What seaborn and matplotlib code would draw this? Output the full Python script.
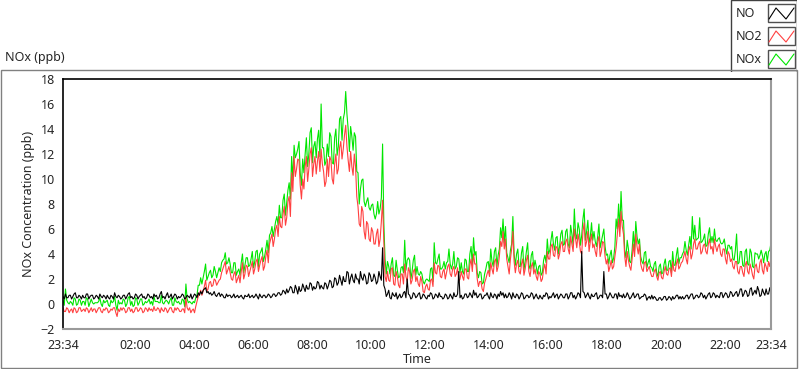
import numpy as np
import pandas as pd
import matplotlib
matplotlib.use("Agg")
import matplotlib.pyplot as plt
from matplotlib.patches import Rectangle
import seaborn as sns

# minutes after 23:34, one reading every 5 min, plus readings in between
minutes = list(range(0, 1445, 5))
minutes_mid = [m + 2.5 for m in range(0, 1440, 5)]

no = [0.6,0.8,0.5,0.7,0.6,0.9,0.5,0.6,0.7,0.5,0.8,0.6,
      0.7,0.5,0.6,0.8,0.5,0.6,0.7,0.4,0.6,0.9,0.5,0.6,
      0.5,0.7,0.6,0.9,0.6,0.5,0.7,0.6,0.8,0.6,0.5,0.7,
      0.6,0.8,0.7,0.5,1.0,0.6,0.7,0.5,0.8,0.6,0.7,0.6,
      0.6,0.7,0.5,0.6,0.8,0.6,0.7,0.9,1.0,1.1,1.3,1.0,
      0.9,0.8,0.7,0.8,0.6,0.7,0.5,0.6,0.7,0.6,0.5,0.7,
      0.6,0.5,0.7,0.6,0.5,0.7,0.6,0.6,0.8,0.5,0.7,0.6,
      0.7,0.6,0.8,0.7,0.9,0.8,1.0,1.2,1.1,1.3,0.9,1.2,
      1.4,1.1,1.3,1.5,1.2,1.6,1.4,1.3,1.7,1.5,1.2,1.6,
      1.5,1.8,1.4,2.0,1.7,1.9,2.2,1.8,2.5,2.1,1.9,2.4,
      2.0,2.6,1.9,2.2,1.7,2.3,1.9,2.1,1.8,2.2,4.5,1.2,
      0.8,0.5,0.9,0.6,0.4,0.8,0.6,1.0,2.0,0.7,0.5,0.8,
      0.6,0.9,0.5,0.7,0.4,0.6,0.8,0.5,0.7,0.9,0.6,0.5,
      0.7,0.5,0.6,0.9,0.6,2.6,0.7,0.5,0.8,0.6,0.7,1.1,
      0.9,0.6,0.8,0.5,0.7,0.6,0.9,0.5,0.7,0.8,1.0,0.9,
      0.8,0.6,0.7,0.9,0.5,0.7,0.6,0.8,0.5,0.7,0.6,0.8,
      0.6,0.5,0.7,0.4,0.6,0.8,0.6,0.7,0.5,0.8,0.6,0.7,
      0.5,0.8,0.6,0.9,0.7,0.6,0.8,4.2,0.9,0.7,0.6,0.8,
      0.6,0.9,0.5,0.7,2.6,0.8,0.6,0.7,0.5,0.8,0.9,0.7,
      0.8,0.6,0.7,0.5,0.9,0.6,0.8,0.5,0.6,0.7,0.5,0.4,
      0.4,0.5,0.3,0.5,0.4,0.6,0.4,0.5,0.6,0.5,0.7,0.6,
      0.6,0.5,0.7,0.6,0.8,0.5,0.7,0.6,0.8,0.7,0.6,0.9,
      0.6,0.8,0.7,0.5,0.9,0.7,0.8,0.6,0.9,0.7,1.0,0.8,
      1.2,0.8,1.0,0.7,1.3,0.9,0.8,1.1,0.7,0.9,1.2,0.8,
      0.8]
no_mid = [0.4,0.5,0.7,0.4,0.8,0.5,0.7,0.4,0.5,0.8,0.4,0.7,
          0.4,0.7,0.4,0.6,0.7,0.4,0.5,0.7,0.4,0.6,0.7,0.4,
          0.7,0.4,0.8,0.5,0.4,0.8,0.4,0.7,0.5,0.4,0.8,0.5,
          0.4,0.6,0.4,0.8,0.5,0.4,0.9,0.6,0.4,0.8,0.4,0.5,
          0.8,0.4,0.7,0.5,0.4,0.8,0.5,0.7,0.8,1.2,0.9,0.8,
          0.7,1.0,0.6,0.9,0.8,0.5,0.8,0.7,0.5,0.8,0.6,0.5,
          0.7,0.4,0.6,0.8,0.6,0.5,0.8,0.4,0.6,0.7,0.5,0.8,
          0.5,0.8,0.6,0.9,0.7,1.1,0.8,0.9,1.4,0.9,1.5,0.8,
          1.0,1.6,1.0,1.2,1.7,1.1,1.2,1.8,1.2,1.3,1.7,1.2,
          1.9,1.3,2.1,1.5,2.3,1.5,1.8,2.6,1.6,2.4,1.7,2.0,
          1.6,2.1,2.4,1.6,2.5,1.8,2.4,1.6,2.6,1.9,1.5,0.6,
          1.1,0.4,0.7,0.9,0.6,0.5,0.9,0.5,0.8,0.4,0.9,0.5,
          0.8,0.4,0.8,0.5,0.7,0.9,0.4,0.8,0.5,0.6,0.4,0.8,
          0.4,0.8,0.4,0.6,0.8,0.5,0.4,0.8,0.5,0.9,0.5,0.7,
          0.5,0.8,0.4,0.7,0.9,0.4,0.6,0.8,0.4,0.6,0.7,0.5,
          0.5,0.9,0.4,0.6,0.8,0.4,0.9,0.4,0.7,0.5,0.9,0.4,
          0.8,0.4,0.5,0.7,0.9,0.4,0.5,0.9,0.7,0.4,0.8,0.5,
          0.8,0.4,0.9,0.5,0.4,0.9,0.5,1.0,0.5,0.9,0.4,0.6,
          0.8,0.4,0.7,0.5,0.8,0.4,0.9,0.5,0.8,0.4,0.6,0.5,
          0.5,0.9,0.4,0.7,0.5,0.8,0.4,0.6,0.8,0.3,0.6,0.7,
          0.6,0.3,0.5,0.3,0.6,0.3,0.6,0.3,0.4,0.7,0.4,0.4,
          0.4,0.7,0.4,0.8,0.4,0.7,0.5,0.9,0.5,0.4,0.8,0.5,
          0.9,0.5,0.6,0.9,0.5,0.9,0.5,1.0,0.6,0.9,0.6,1.2,
          0.6,1.1,0.6,1.2,0.7,1.1,1.4,0.6,1.2,0.7,0.8,1.3]

no2 = [-0.3,-0.6,-0.4,-0.5,-0.7,-0.4,-0.6,-0.3,-0.5,-0.6,-0.4,-0.5,
       -0.6,-0.4,-0.5,-0.3,-0.7,-0.5,-0.4,-0.6,-0.5,-0.3,-1.0,-0.6,
       -0.5,-0.4,-0.6,-0.3,-0.4,-0.6,-0.3,-0.5,-0.4,-0.6,-0.4,-0.3,
       -0.4,-0.2,-0.5,-0.4,-0.3,-0.6,-0.4,-0.5,-0.3,-0.7,-0.5,-0.4,
       -0.6,-0.4,0.5,-0.5,-0.7,-0.4,-0.2,0.6,1.1,1.0,1.9,1.2,
       1.8,1.5,1.9,1.7,2.0,2.8,3.4,2.7,2.5,1.9,2.6,2.0,
       1.7,3.3,2.4,3.0,2.6,3.4,2.8,3.6,3.1,3.8,3.0,4.3,
       4.8,5.6,5.2,6.3,7.0,6.1,7.8,6.9,8.6,10.5,11.8,10.8,
       11.5,8.4,9.2,11.8,10.8,12.5,11.2,10.4,12.2,12.4,10.6,9.8,
       10.2,11.5,9.6,12.0,10.8,13.0,12.4,14.3,11.5,12.2,10.3,11.0,
       7.8,6.2,7.4,5.2,6.4,5.0,5.8,4.8,6.0,5.2,8.3,2.2,
       2.6,1.8,2.9,1.5,2.2,1.3,2.4,3.2,1.8,2.6,1.9,2.8,
       2.2,1.4,1.8,0.9,1.6,1.1,2.0,3.3,2.4,3.0,2.1,2.8,
       2.5,3.2,2.2,3.0,2.4,1.8,2.6,1.9,2.8,2.0,3.6,4.0,
       3.2,1.4,1.8,1.0,2.0,2.7,3.3,2.4,3.6,3.0,5.0,5.8,
       5.2,3.0,3.6,5.8,2.5,3.5,2.4,3.6,2.8,3.9,2.2,3.3,
       2.8,1.9,2.4,2.0,3.2,4.2,3.6,4.8,3.8,4.5,4.0,5.0,
       4.2,5.2,4.0,4.8,6.0,4.5,5.0,4.0,6.5,5.0,4.2,5.6,
       4.8,3.8,5.4,4.2,4.9,3.2,2.6,3.5,3.0,4.5,6.8,7.4,
       5.6,3.0,3.5,2.7,4.8,5.6,4.0,3.2,2.6,3.4,2.8,2.5,
       2.2,2.8,1.9,2.6,2.0,3.0,2.3,2.9,3.4,2.6,3.6,3.0,
       3.4,4.2,3.2,4.6,4.0,5.2,4.4,5.0,4.2,4.8,4.0,5.2,
       4.6,5.2,4.2,4.8,3.8,4.4,3.2,4.0,3.6,2.8,3.4,2.4,
       3.0,2.2,3.4,2.4,2.8,2.0,3.2,2.5,3.6,2.4,3.0,3.4,
       3.6]
no2_mid = [-0.6,-0.3,-0.7,-0.4,-0.3,-0.7,-0.3,-0.6,-0.4,-0.3,-0.7,-0.3,
           -0.4,-0.7,-0.3,-0.6,-0.4,-0.3,-0.7,-0.4,-0.3,-0.7,-0.4,-0.3,
           -0.3,-0.7,-0.3,-0.6,-0.7,-0.3,-0.6,-0.3,-0.7,-0.3,-0.6,-0.5,
           -0.6,-0.5,-0.3,-0.7,-0.5,-0.3,-0.7,-0.3,-0.6,-0.3,-0.3,-0.6,
           -0.4,-0.7,-0.3,-0.3,-0.5,-0.7,0.2,0.8,0.7,1.4,1.0,1.7,
           1.4,2.0,1.5,1.9,2.5,3.1,2.4,3.0,2.0,2.4,1.7,2.3,
           2.6,2.0,3.1,2.2,3.0,2.4,3.4,2.6,3.5,2.7,3.8,3.3,
           5.2,4.6,6.0,5.4,6.2,7.2,6.3,8.2,7.0,9.0,10.2,11.6,
           9.5,10.0,11.0,9.8,12.0,10.2,11.8,11.4,10.6,11.2,9.4,11.6,
           11.8,10.0,11.2,10.4,12.5,11.6,13.5,12.6,10.6,11.0,12.0,8.6,
           6.4,7.8,5.8,6.6,5.2,6.1,4.8,5.6,4.6,6.6,5.0,1.8,
           1.9,2.8,1.6,2.6,1.5,2.4,1.6,2.2,2.9,1.6,2.6,1.8,
           1.6,2.2,1.0,1.4,1.2,1.9,1.4,2.5,3.1,2.2,2.6,2.0,
           3.0,2.4,2.8,2.2,2.9,2.0,2.2,2.8,2.1,3.1,2.6,3.2,
           2.0,1.8,1.2,1.7,2.4,2.2,2.8,3.4,2.6,3.8,4.6,4.4,
           3.6,2.4,4.4,3.4,3.2,2.6,3.2,2.3,3.5,2.6,3.0,2.4,
           2.2,2.6,1.8,2.8,2.4,3.6,4.6,3.9,4.6,3.6,4.8,4.2,
           5.0,4.4,5.4,4.2,5.2,5.6,4.2,5.8,4.6,5.8,5.0,4.5,
           4.2,5.0,3.8,5.0,3.8,3.6,3.0,2.8,3.8,5.6,5.4,6.2,
           3.8,4.2,3.0,3.6,3.8,4.6,4.8,2.8,3.3,2.6,3.0,2.2,
           2.6,2.2,2.5,2.1,2.6,2.4,2.8,2.2,2.7,3.2,2.8,3.3,
           3.8,3.6,4.3,3.6,4.8,4.4,4.8,4.0,4.7,4.2,4.8,4.4,
           4.0,4.6,4.6,4.0,4.4,3.6,4.2,3.4,3.0,3.4,2.6,3.0,
           2.5,3.1,2.6,3.2,2.3,3.0,2.6,3.3,2.7,3.3,2.6,3.0]

nox = [0.3,1.2,0.1,0.2,-0.1,0.4,0.0,0.3,0.2,-0.1,0.4,0.1,
       0.1,0.1,0.1,0.5,-0.2,0.1,0.3,-0.2,0.1,0.6,-0.5,0.0,
       0.0,0.3,0.0,0.6,0.2,-0.1,0.4,0.1,0.4,0.0,0.1,0.4,
       0.2,0.6,0.2,0.1,0.7,0.0,0.3,0.0,0.5,-0.1,0.2,0.2,
       0.0,0.3,1.6,0.1,0.1,0.2,0.5,1.5,2.1,2.1,3.2,2.2,
       2.7,2.3,2.6,2.5,2.6,3.5,4.1,3.3,3.2,2.5,3.3,2.6,
       2.3,4.0,3.1,3.7,3.1,4.2,3.4,4.3,4.0,4.5,3.8,5.1,
       5.5,6.2,6.0,7.0,7.9,6.9,8.8,8.1,9.7,11.8,12.7,12.0,
       13.0,9.5,10.5,13.3,12.0,14.1,12.6,11.7,13.9,16.0,12.5,11.4,
       11.8,13.4,11.2,14.0,12.6,15.0,14.8,17.0,14.0,14.2,12.3,13.4,
       10.5,9.2,10.0,7.8,8.5,7.5,8.0,6.8,8.2,7.6,12.8,3.6,
       3.4,2.4,3.7,2.2,2.7,2.2,3.0,5.1,3.5,3.5,2.6,3.9,
       3.0,2.3,2.4,1.6,2.0,1.8,2.9,4.9,3.2,4.0,2.8,3.4,
       3.3,4.4,2.8,4.2,3.0,3.6,3.3,2.4,3.5,2.6,4.6,5.3,
       4.2,2.1,2.5,1.7,2.8,3.4,4.4,3.0,4.5,3.9,6.1,6.8,
       6.2,3.7,4.3,7.0,3.1,4.4,3.0,4.6,3.4,4.9,2.8,4.2,
       3.5,2.4,3.1,2.5,3.9,5.2,4.3,5.8,4.3,5.4,4.6,5.9,
       4.8,6.0,4.5,5.6,7.6,5.2,6.0,5.5,7.6,5.8,4.9,6.5,
       5.8,4.6,6.4,5.0,6.0,3.9,3.2,4.3,3.7,6.8,8.0,9.0,
       6.7,3.7,4.4,3.3,5.8,6.6,4.8,3.8,3.2,4.2,3.3,3.0,
       2.6,3.4,2.2,3.2,2.5,3.6,2.7,3.5,4.2,3.1,4.5,3.7,
       4.0,5.0,3.9,5.4,7.0,6.3,5.2,6.9,5.0,5.6,4.7,6.1,
       5.4,6.0,5.0,5.3,4.8,5.2,4.0,4.7,4.6,3.5,5.6,3.3,
       4.2,3.0,4.4,3.1,4.1,2.9,4.0,3.6,4.3,3.3,4.2,4.2,
       4.9]
nox_mid = [-0.1,0.3,0.0,0.1,0.5,-0.1,0.4,-0.1,0.2,0.5,-0.2,0.4,
           0.0,0.1,0.2,0.0,0.3,0.2,-0.1,0.3,0.2,-0.1,0.3,0.1,
           0.4,-0.2,0.5,-0.1,-0.2,0.5,-0.1,0.4,-0.1,0.2,0.2,0.0,
           -0.1,0.2,0.2,0.1,0.1,0.2,0.2,0.3,-0.1,0.5,0.1,0.0,
           0.4,-0.2,0.4,0.2,0.0,0.1,0.7,1.5,1.6,2.6,1.9,2.5,
           2.1,3.0,2.1,2.9,3.3,3.6,3.2,3.7,2.5,3.3,2.3,2.8,
           3.3,2.5,3.7,3.0,3.6,2.9,4.2,3.0,4.2,3.4,4.4,4.1,
           5.7,5.4,6.6,6.3,6.9,8.3,7.1,9.1,8.4,9.9,11.7,12.4,
           10.5,11.6,12.0,11.0,13.7,11.3,13.0,13.2,11.8,12.5,11.1,12.8,
           13.7,11.3,13.3,11.9,14.8,13.1,15.3,15.2,12.2,13.4,13.7,10.6,
           8.0,9.9,8.2,8.2,7.7,7.9,7.2,7.2,7.2,8.5,6.5,2.4,
           3.0,3.2,2.3,3.5,2.1,2.9,2.5,2.7,3.7,2.0,3.5,2.3,
           2.4,2.6,1.8,1.9,1.9,2.8,1.8,3.3,3.6,2.8,3.0,2.8,
           3.4,3.2,3.2,2.8,3.7,2.5,2.6,3.6,2.6,4.0,3.1,3.9,
           2.5,2.6,1.6,2.4,3.3,2.6,3.4,4.2,3.0,4.4,5.3,4.9,
           4.1,3.3,4.8,4.0,4.0,3.0,4.1,2.7,4.2,3.1,3.9,2.8,
           3.0,3.0,2.3,3.5,3.3,4.0,5.1,4.8,5.3,4.0,5.6,4.7,
           5.8,4.8,6.3,4.7,5.6,6.5,4.7,6.8,5.1,6.7,5.4,5.1,
           5.0,5.4,4.5,5.5,4.6,4.0,3.9,3.3,4.6,6.0,6.0,6.7,
           4.3,5.1,3.4,4.3,4.3,5.4,5.2,3.4,4.1,2.9,3.6,2.9,
           3.2,2.5,3.0,2.4,3.2,2.7,3.4,2.5,3.1,3.9,3.2,3.7,
           4.2,4.3,4.7,4.4,5.2,5.1,5.3,4.9,5.2,4.6,5.6,4.9,
           4.9,5.1,5.2,4.9,4.9,4.5,4.7,4.4,3.6,4.3,3.2,4.2,
           3.1,4.2,3.2,4.4,3.0,4.1,4.0,3.9,3.9,4.0,3.4,4.3]

tick_minutes = [0, 146, 266, 386, 506, 626, 746, 866, 986, 1106, 1226, 1346, 1440]
tick_labels = ["23:34", "02:00", "04:00", "06:00", "08:00", "10:00", "12:00",
               "14:00", "16:00", "18:00", "20:00", "22:00", "23:34"]

df = pd.concat([
    pd.DataFrame({"t": minutes, "NO": no, "NO2": no2, "NOx": nox}),
    pd.DataFrame({"t": minutes_mid, "NO": no_mid, "NO2": no2_mid, "NOx": nox_mid}),
]).sort_values("t").reset_index(drop=True)

sns.set_style("white")
plt.rcParams['font.family'] = ['Noto Sans', 'DejaVu Sans']

fig = plt.figure(figsize=(8, 3.69), dpi=100)
W, H = 800, 369

# outer panel frame
fig.patches.append(Rectangle((1/W, 1/H), 796/W, 298/H, transform=fig.transFigure,
                             fill=False, edgecolor='#808080', lw=1))

ax = fig.add_axes([63/W, 1-329/H, 708/W, 250/H])
sns.lineplot(data=df, x="t", y="NOx", color="#00e600", lw=0.8, ax=ax)
sns.lineplot(data=df, x="t", y="NO2", color="#ff4040", lw=0.8, ax=ax)
sns.lineplot(data=df, x="t", y="NO", color="black", lw=0.8, ax=ax)

ax.set_xlim(0, 1440)
ax.set_ylim(-2, 18)
ax.set_yticks(range(-2, 19, 2))
ax.set_xticks(tick_minutes)
ax.set_xticklabels(tick_labels)
minor = [146 + k*40/3 for k in range(-10, 100) if 0 < 146 + k*40/3 < 1440]
ax.set_xticks(minor, minor=True)
ax.tick_params(axis='both', which='major', direction='out', length=4, width=1,
               labelsize=9, pad=2, color='black')
ax.tick_params(axis='x', which='major', length=5)
ax.tick_params(axis='x', which='minor', direction='out', length=3, width=1, color='black')

for s in ['top', 'left']:
    ax.spines[s].set_color('black')
    ax.spines[s].set_linewidth(1.2)
for s in ['bottom', 'right']:
    ax.spines[s].set_color('#9a9a9a')
    ax.spines[s].set_linewidth(1.5)

ax.set_xlabel("Time", fontsize=9, labelpad=1)
ax.set_ylabel("NOx Concentration (ppb)", fontsize=9, labelpad=4)

fig.text(5/W, 1-58/H, "NOx (ppb)", fontsize=9, va='center', ha='left')

# legend panel
lax = fig.add_axes([730/W, 1-72/H, 67/W, 72/H])
lax.set_xlim(730, 797)
lax.set_ylim(72, 0)
lax.axis('off')
lax.add_patch(Rectangle((730.5, 0), 66.5, 71.5, fill=False, edgecolor='#404040', lw=1))
names = ["NO", "NO2", "NOx"]
colors = ["black", "#ff4040", "#00e600"]
tops = [4, 27, 50]
for name, c, top in zip(names, colors, tops):
    lax.text(736, top + 9.5, name, fontsize=9, va='center', ha='left')
    lax.add_patch(Rectangle((768, top), 27, 18, fill=False, edgecolor='#505050', lw=1))
    lax.plot([769, 776, 786, 794], [top + 15, top + 4, top + 15, top + 4], color=c, lw=0.8)

fig.savefig("out.png", dpi=100)
